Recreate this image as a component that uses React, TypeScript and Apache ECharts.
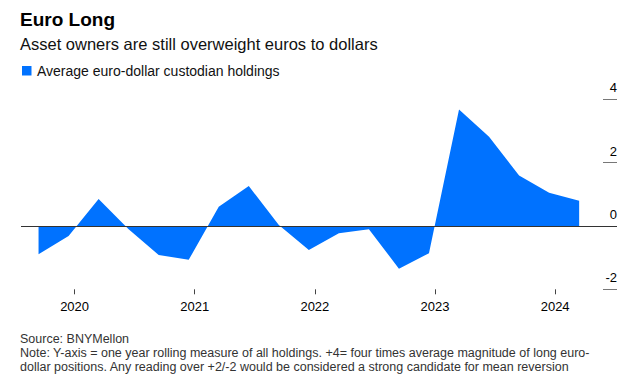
import React, { useEffect, useRef } from 'react';
import * as echarts from 'echarts';

const quarters = [
  2019.70, 2019.95, 2020.20, 2020.45, 2020.70, 2020.95, 2021.20, 2021.45, 2021.70, 2021.95,
  2022.20, 2022.45, 2022.70, 2022.95, 2023.20, 2023.45, 2023.70, 2023.95, 2024.20,
];
const holdings = [
  -0.89, -0.32, 0.85, -0.1, -0.92, -1.07, 0.61, 1.26, 0.03, -0.76,
  -0.23, -0.1, -1.35, -0.86, 3.68, 2.82, 1.59, 1.05, 0.8,
];
const yearTicks = [2020, 2021, 2022, 2023, 2024];
const seriesName = 'Average euro-dollar custodian holdings';
const titleText = 'Euro Long';
const subtitleText = 'Asset owners are still overweight euros to dollars';
const sourceText = 'Source: BNYMellon';
const noteLine1 = 'Note: Y-axis = one year rolling measure of all holdings. +4= four times average magnitude of long euro-';
const noteLine2 = 'dollar positions. Any reading over +2/-2 would be considered a strong candidate for mean reversion';

const FONT = '"Liberation Sans", Arial, Helvetica, sans-serif';
const BLUE = '#0072ff';

export default function App() {
  const ref = useRef<HTMLDivElement>(null);

  useEffect(() => {
    document.body.style.margin = '0';
    if (!ref.current) return;
    const chart = echarts.init(ref.current, undefined, { renderer: 'svg' });
    chart.setOption({
      animation: false,
      backgroundColor: '#ffffff',
      grid: { left: 21, right: 23, top: 99.3, bottom: 99.7 },
      xAxis: {
        type: 'value',
        position: 'bottom',
        min: 2019.554,
        max: 2024.515,
        axisLine: { show: false, onZero: false },
        splitLine: { show: false },
        axisTick: {
          show: true,
          customValues: yearTicks,
          length: 5,
          lineStyle: { color: '#444', width: 1 },
        },
        axisLabel: {
          customValues: yearTicks,
          formatter: (v: number) => String(Math.round(v)),
          margin: 11,
          fontSize: 13,
          color: '#000',
          fontFamily: FONT,
        },
      },
      yAxis: {
        type: 'value',
        position: 'right',
        min: -2,
        max: 4,
        interval: 2,
        axisLine: { show: false, onZero: false },
        splitLine: { show: false },
        axisTick: { show: true, inside: true, length: 14, lineStyle: { color: '#777', width: 1 } },
        axisLabel: {
          inside: true,
          margin: 0,
          fontSize: 13,
          color: '#000',
          fontFamily: FONT,
          verticalAlign: 'bottom',
          padding: [0, 0, 5, 0],
        },
      },
      series: [
        {
          name: seriesName,
          type: 'line',
          data: quarters.map((q, i) => [q, holdings[i]]),
          symbol: 'none',
          lineStyle: { width: 0, color: BLUE },
          itemStyle: { color: BLUE },
          areaStyle: { color: BLUE, opacity: 1 },
          markLine: {
            silent: true,
            symbol: 'none',
            label: { show: false },
            lineStyle: { color: '#333', width: 1, type: 'solid' },
            data: [{ yAxis: 0 }],
          },
        },
      ],
      graphic: [
        {
          type: 'text',
          style: {
            text: titleText, x: 20, y: 19, fill: '#000', fontSize: 19, fontWeight: 'bold',
            fontFamily: FONT, textVerticalAlign: 'middle',
          },
        },
        {
          type: 'text',
          style: {
            text: subtitleText, x: 20, y: 43.5, fill: '#111', fontSize: 16.5,
            fontFamily: FONT, textVerticalAlign: 'middle',
          },
        },
        {
          type: 'rect',
          shape: { x: 22, y: 66, width: 9.5, height: 9.5 },
          style: { fill: BLUE },
        },
        {
          type: 'text',
          style: {
            text: seriesName, x: 37, y: 70.8, fill: '#111', fontSize: 14,
            fontFamily: FONT, textVerticalAlign: 'middle',
          },
        },
        {
          type: 'text',
          style: {
            text: sourceText, x: 20, y: 338.5, fill: '#333', fontSize: 12.5,
            fontFamily: FONT, textVerticalAlign: 'middle',
          },
        },
        {
          type: 'text',
          style: {
            text: noteLine1, x: 20, y: 352.7, fill: '#333', fontSize: 12.5,
            fontFamily: FONT, textVerticalAlign: 'middle',
          },
        },
        {
          type: 'text',
          style: {
            text: noteLine2, x: 20, y: 366.5, fill: '#333', fontSize: 12.5,
            fontFamily: FONT, textVerticalAlign: 'middle',
          },
        },
      ],
    });
    return () => chart.dispose();
  }, []);

  return <div ref={ref} style={{ width: 640, height: 389 }} />;
}
